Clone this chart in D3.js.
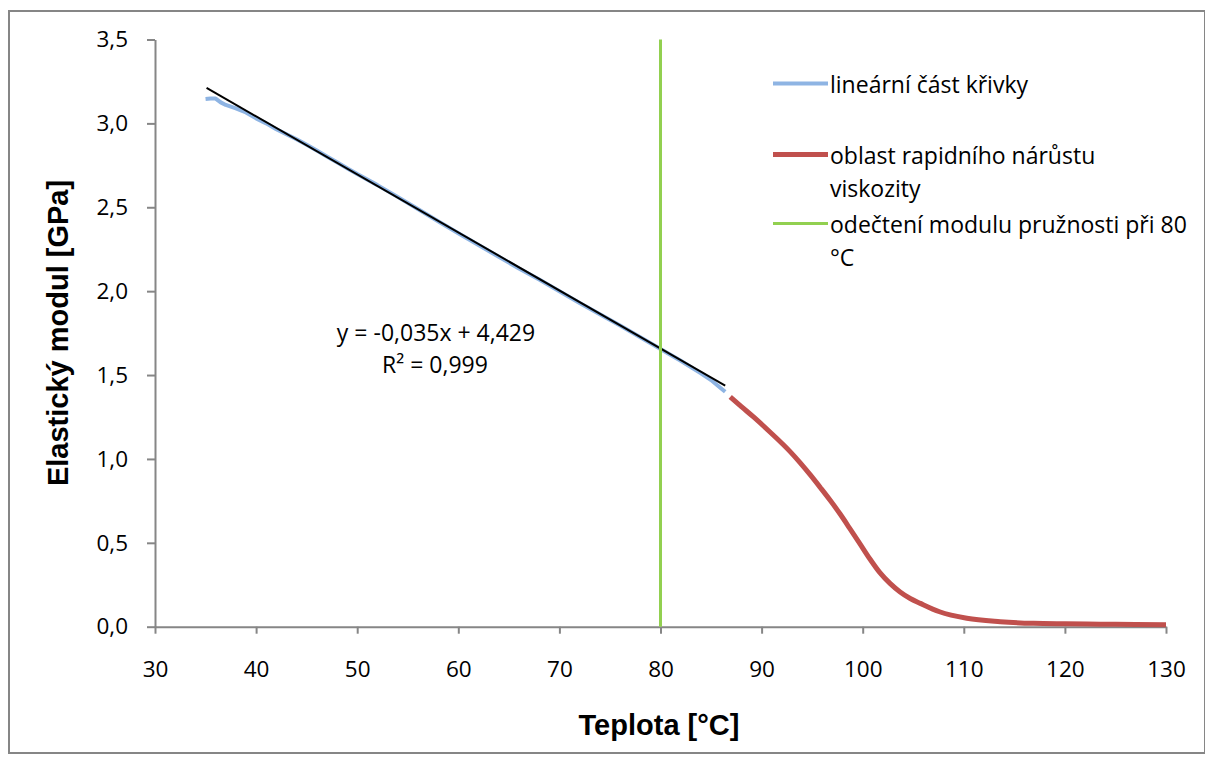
<!DOCTYPE html>
<html lang="cs">
<head>
<meta charset="utf-8">
<title>Elastický modul</title>
<script src="https://cdn.jsdelivr.net/npm/d3@7"></script>
<style>
body { margin: 0; background: #fff; }
.tick text { font-family: "Open Sans", "Noto Sans", sans-serif; font-size: 22.5px; fill: #000; }
.axis path, .axis line { stroke: #868686; stroke-width: 2; }
.title { font-family: "Liberation Sans", Arial, sans-serif; font-weight: bold; font-size: 29px; }
.lab { font-family: "Open Sans", "Noto Sans", sans-serif; font-size: 23px; }
</style>
</head>
<body>
<script>
// linear part of the curve (blue)
var linX = [35.0, 35.5, 36.0, 36.5, 37.0, 38, 39, 40, 41, 42, 43, 44, 45, 46, 47, 48, 49, 50,
  52, 54, 56, 58, 60, 62, 64, 66, 68, 70, 72, 74, 76, 78, 80, 82, 84, 85, 86, 86.4];
var linY = [3.145, 3.148, 3.148, 3.125, 3.11, 3.09, 3.065, 3.03, 3.0, 2.965, 2.935, 2.905, 2.872, 2.838, 2.803, 2.768, 2.733, 2.698,
  2.632, 2.562, 2.49, 2.417, 2.345, 2.275, 2.205, 2.135, 2.07, 2.0, 1.93, 1.862, 1.795, 1.725, 1.655, 1.585, 1.51, 1.47, 1.42, 1.40];
// rapid viscosity increase region (red)
var visX = [86.9, 88, 89.2, 90.8, 92.8, 93.8, 94.8, 95.8, 96.8, 97.75, 98.7, 99.7, 100.7, 101.7, 102.7, 103.7, 104.7, 105.7, 107.6, 110.3, 113.6, 116.9, 120, 123.5, 127, 130];
var visY = [1.37, 1.312, 1.25, 1.162, 1.045, 0.978, 0.906, 0.83, 0.752, 0.673, 0.588, 0.497, 0.405, 0.322, 0.258, 0.207, 0.168, 0.139, 0.089, 0.05, 0.03, 0.02, 0.017, 0.015, 0.013, 0.012];
// trend line
var trendSlope = -0.0346, trendIntercept = 4.426, trendRange = [35.1, 86.4];
var readX = 80;
var xTicks = [30, 40, 50, 60, 70, 80, 90, 100, 110, 120, 130];
var yTicks = [0, 0.5, 1.0, 1.5, 2.0, 2.5, 3.0, 3.5];

var W = 1205, H = 764;
var svg = d3.select("body").append("svg").attr("width", W).attr("height", H);

svg.append("rect").attr("x", 9).attr("y", 11).attr("width", 1196).attr("height", 742)
  .attr("fill", "#fff").attr("stroke", "#868686").attr("stroke-width", 2);

var x = d3.scaleLinear().domain([30, 130]).range([155, 1166]);
var y = d3.scaleLinear().domain([0, 3.5]).range([626.7, 39.5]);
var fmt = function(d) { return d3.format(".1f")(d).replace(".", ","); };

svg.append("g").attr("class", "axis").attr("transform", "translate(0,626.7)")
  .call(d3.axisBottom(x).tickValues(xTicks).tickSize(7).tickPadding(27).tickSizeOuter(0));
svg.append("g").attr("class", "axis").attr("transform", "translate(155,0)")
  .call(d3.axisLeft(y).tickValues(yTicks).tickFormat(fmt).tickSize(8).tickPadding(19).tickSizeOuter(0));

var line = d3.line().x(function(d) { return x(d[0]); }).y(function(d) { return y(d[1]); });

svg.append("path").datum(linX.map(function(v, i) { return [v, linY[i]]; }))
  .attr("d", line).attr("fill", "none").attr("stroke", "#8EB4E3").attr("stroke-width", 4)
  .attr("stroke-linejoin", "round");
svg.append("path").datum(visX.map(function(v, i) { return [v, visY[i]]; }))
  .attr("d", line.curve(d3.curveMonotoneX)).attr("fill", "none").attr("stroke", "#C0504D").attr("stroke-width", 5)
  .attr("stroke-linejoin", "round");
line.curve(d3.curveLinear);

svg.append("path").datum(trendRange.map(function(v) { return [v, trendSlope * v + trendIntercept]; }))
  .attr("d", line).attr("fill", "none").attr("stroke", "#000").attr("stroke-width", 2);

svg.append("line").attr("x1", x(readX)).attr("x2", x(readX)).attr("y1", y(3.5)).attr("y2", y(0))
  .attr("stroke", "#92D050").attr("stroke-width", 3);

// equation
svg.append("text").attr("class", "lab").attr("x", 436).attr("y", 341).attr("text-anchor", "middle")
  .text("y = -0,035x + 4,429");
svg.append("text").attr("class", "lab").attr("x", 435).attr("y", 373).attr("text-anchor", "middle")
  .text("R² = 0,999");

// legend
var legend = [
  { color: "#8EB4E3", w: 4, y: 83.5, lines: ["lineární část křivky"] },
  { color: "#C0504D", w: 5, y: 154.5, lines: ["oblast rapidního nárůstu", "viskozity"] },
  { color: "#92D050", w: 3, y: 223.5, lines: ["odečtení modulu pružnosti při 80", "°C"] }
];
legend.forEach(function(l) {
  svg.append("line").attr("x1", 773).attr("x2", 828).attr("y1", l.y).attr("y2", l.y)
    .attr("stroke", l.color).attr("stroke-width", l.w);
  l.lines.forEach(function(t, i) {
    svg.append("text").attr("class", "lab").attr("x", 830).attr("y", l.y + 9.5 + i * 33).text(t);
  });
});

svg.append("text").attr("class", "title").attr("x", 659).attr("y", 735).attr("text-anchor", "middle")
  .text("Teplota [°C]");
svg.append("text").attr("class", "title").attr("transform", "translate(68,333) rotate(-90)")
  .attr("text-anchor", "middle").text("Elastický modul [GPa]");
</script>
</body>
</html>
